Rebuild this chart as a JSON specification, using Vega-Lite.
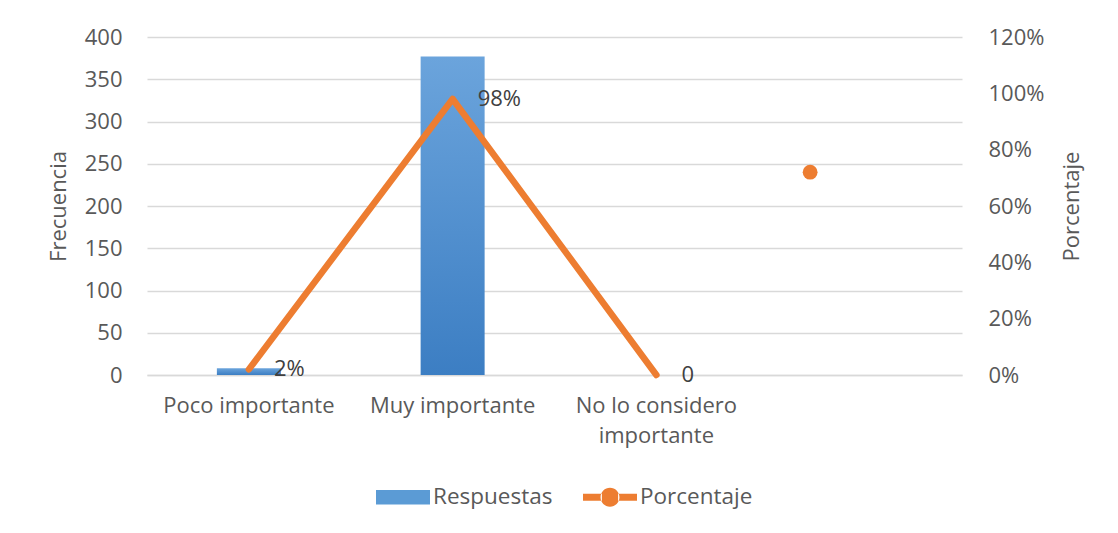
{
  "$schema": "https://vega.github.io/schema/vega-lite/v6.json",
  "autosize": "none",
  "width": 815,
  "height": 338,
  "padding": {"left": 147, "top": 37, "right": 156, "bottom": 158},
  "background": "white",
  "config": {
    "font": "Open Sans",
    "view": {"stroke": null},
    "axis": {
      "labelFont": "Open Sans",
      "titleFont": "Open Sans",
      "labelFontSize": 22,
      "titleFontSize": 22,
      "labelColor": "#595959",
      "titleColor": "#595959",
      "titleFontWeight": "normal",
      "ticks": false,
      "domain": false,
      "gridColor": "#d9d9d9",
      "gridWidth": 1.5
    }
  },
  "data": {
    "values": [
      {"categoria": "Poco importante", "frecuencia": 8, "porcentaje": 0.02, "etiqueta": "2%", "serie": "Porcentaje", "grupo": "principal"},
      {"categoria": "Muy importante", "frecuencia": 377, "porcentaje": 0.98, "etiqueta": "98%", "serie": "Porcentaje", "grupo": "principal"},
      {"categoria": "No lo considero importante", "frecuencia": 0, "porcentaje": 0, "etiqueta": "0", "serie": "Porcentaje", "grupo": "principal"},
      {"categoria": " ", "frecuencia": null, "porcentaje": 0.72, "etiqueta": "", "serie": "Porcentaje", "grupo": "aislado"}
    ]
  },
  "encoding": {
    "x": {
      "field": "categoria",
      "type": "nominal",
      "sort": null,
      "scale": {"domain": ["Poco importante", "Muy importante", "No lo considero importante", " "], "paddingInner": 0, "paddingOuter": 0},
      "axis": {
        "title": null,
        "labelAngle": 0,
        "labelPadding": 20,
        "labelBaseline": "top",
        "labelLineHeight": 30,
        "grid": false,
        "domain": true,
        "domainColor": "#d9d9d9",
        "domainWidth": 1.5,
        "labelExpr": "datum.label == 'No lo considero importante' ? ['No lo considero', 'importante'] : datum.label"
      }
    }
  },
  "layer": [
    {
      "transform": [{"filter": "datum.grupo == 'principal'"}],
      "mark": {
        "type": "bar",
        "width": 64,
        "color": {
          "gradient": "linear",
          "x1": 0, "y1": 0, "x2": 0, "y2": 1,
          "stops": [{"offset": 0, "color": "#6BA4DC"}, {"offset": 1, "color": "#3C7EC3"}]
        }
      },
      "encoding": {
        "y": {
          "field": "frecuencia",
          "type": "quantitative",
          "scale": {"domain": [0, 400], "nice": false},
          "axis": {
            "title": "Frecuencia",
            "values": [0, 50, 100, 150, 200, 250, 300, 350, 400],
            "grid": true,
            "labelPadding": 25,
            "titlePadding": 14
          }
        }
      }
    },
    {
      "layer": [
        {
          "transform": [{"filter": "datum.grupo == 'principal'"}],
          "mark": {"type": "line", "color": "#ED7D31", "strokeWidth": 6.5, "strokeCap": "round", "strokeJoin": "round"},
          "encoding": {
            "y": {
              "field": "porcentaje",
              "type": "quantitative",
              "scale": {"domain": [0, 1.2], "nice": false},
              "axis": {
                "title": "Porcentaje",
                "orient": "right",
                "format": ".0%",
                "values": [0, 0.2, 0.4, 0.6, 0.8, 1.0, 1.2],
                "grid": false,
                "labelPadding": 26,
                "titlePadding": 18,
                "titleAngle": 270,
                "titleBaseline": "top"
              }
            }
          }
        },
        {
          "transform": [{"filter": "datum.grupo == 'principal'"}],
          "mark": {"type": "text", "align": "left", "baseline": "middle", "dx": 25, "fontSize": 22, "color": "#404040", "font": "Open Sans"},
          "encoding": {
            "y": {"field": "porcentaje", "type": "quantitative"},
            "text": {"field": "etiqueta"}
          }
        },
        {
          "transform": [{"filter": "datum.grupo == 'aislado'"}],
          "mark": {"type": "point", "filled": true, "size": 220, "opacity": 1, "xOffset": -50, "color": "#ED7D31"},
          "encoding": {
            "y": {"field": "porcentaje", "type": "quantitative"}
          }
        },
        {
          "transform": [{"filter": "datum.grupo == 'aislado'"}],
          "mark": {"type": "point", "filled": true, "opacity": 0},
          "encoding": {
            "y": {"field": "porcentaje", "type": "quantitative"},
            "color": {
              "field": "serie",
              "type": "nominal",
              "scale": {"domain": ["Respuestas", "Porcentaje"], "range": ["#5B9BD5", "#ED7D31"]},
              "legend": {
                "title": null,
                "orient": "none",
                "direction": "horizontal",
                "legendX": 229,
                "legendY": 433,
                "labelFont": "Open Sans",
                "labelFontSize": 22.5,
                "labelColor": "#595959",
                "symbolSize": 2916,
                "symbolOpacity": 1,
                "symbolStrokeWidth": 0,
                "labelOffset": 3,
                "columnPadding": 30
              }
            },
            "shape": {
              "field": "serie",
              "type": "nominal",
              "scale": {
                "domain": ["Respuestas", "Porcentaje"],
                "range": ["M-1,-0.27H1V0.27H-1Z", "M-1,-0.13H-0.3V0.13H-1Z M0.3,-0.13H1V0.13H0.3Z M-0.35,0A0.35,0.35 0 1,0 0.35,0A0.35,0.35 0 1,0 -0.35,0Z"]
              },
              "legend": {
                "title": null,
                "orient": "none",
                "direction": "horizontal",
                "legendX": 229,
                "legendY": 433,
                "labelFont": "Open Sans",
                "labelFontSize": 22.5,
                "labelColor": "#595959",
                "symbolSize": 2916,
                "symbolOpacity": 1,
                "symbolStrokeWidth": 0,
                "labelOffset": 3,
                "columnPadding": 30
              }
            }
          }
        }
      ]
    }
  ],
  "resolve": {"scale": {"y": "independent"}}
}
